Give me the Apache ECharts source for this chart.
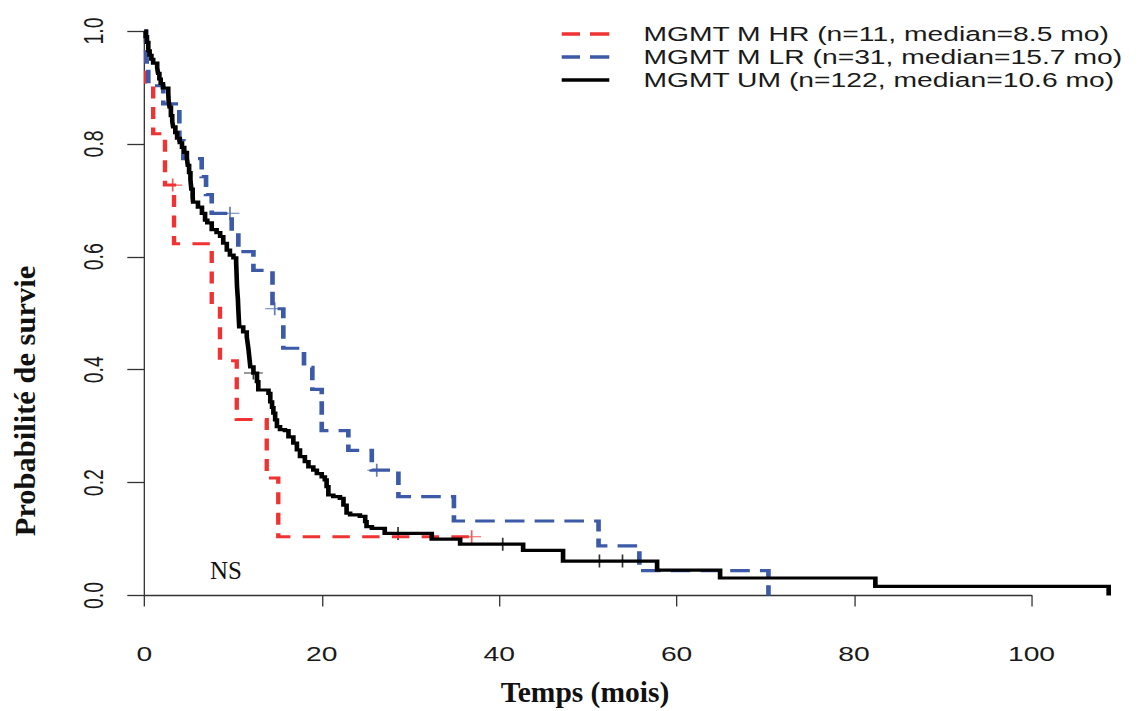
<!DOCTYPE html>
<html><head><meta charset="utf-8">
<script src="https://cdn.jsdelivr.net/npm/echarts@6/dist/echarts.min.js"></script>
<style>
html,body{margin:0;padding:0;background:#fff;overflow:hidden;width:1143px;height:711px}
#wrap{position:absolute;left:0;top:0;width:1143px;height:711px;overflow:hidden;background:#fff}
#chart{position:absolute;left:0;top:0;width:788px;height:711px;transform:scaleX(1.4505);transform-origin:0 0}
</style></head><body><div id="wrap"><div id="chart"></div></div>
<script>
// ---------- data ----------
const seriesNames = [
  'MGMT M HR (n=11, median=8.5 mo)',
  'MGMT M LR (n=31, median=15.7 mo)',
  'MGMT UM (n=122, median=10.6 mo)'
];
const xTicks = [0, 20, 40, 60, 80, 100];
const yTicks = [0.0, 0.2, 0.4, 0.6, 0.8, 1.0];

const hrTime = [0, 0.2, 1.0, 2.33, 3.35, 7.6, 8.53, 10.42, 13.8, 15.1, 36.9];
const hrSurv = [1, 0.909, 0.818, 0.727, 0.623, 0.519, 0.416, 0.312, 0.208, 0.104, 0.104];
const hrCensTime = [3.2, 36.9];
const hrCensSurv = [0.727, 0.104];

const lrTime = [0, 0.2, 0.3, 0.45, 2.14, 3.95, 4.4, 6.47, 6.96, 7.6, 9.85, 10.6, 12.3, 14.45, 15.67, 18.0, 18.94, 20.0, 23.0, 25.64, 28.64, 34.9, 51.2, 55.8, 70.35];
const lrSurv = [1, 0.968, 0.935, 0.903, 0.871, 0.806, 0.774, 0.742, 0.71, 0.677, 0.643, 0.609, 0.576, 0.508, 0.438, 0.404, 0.365, 0.292, 0.257, 0.222, 0.175, 0.132, 0.088, 0.044, 0];
const lrCensTime = [9.66, 14.7, 26.2];
const lrCensSurv = [0.677, 0.508, 0.222];

const umTime = [0, 0.16, 0.3, 0.45, 0.6, 0.8, 1.0, 1.45, 1.55, 1.7, 1.85, 2.1, 2.7, 2.75, 2.85, 3.0, 3.15, 3.25, 3.5, 3.7, 4.0, 4.25, 4.5, 4.8, 4.9, 5.05, 5.2, 5.3, 5.45, 5.5, 6.05, 6.5, 6.85, 7.1, 7.6, 8.15, 8.55, 8.9, 9.3, 9.65, 10.05, 10.35, 10.4, 10.45, 10.55, 10.6, 10.7, 11.15, 11.55, 11.65, 11.75, 11.85, 11.95, 12.3, 12.7, 12.85, 14.0, 14.2, 14.4, 14.55, 14.75, 14.95, 15.3, 15.85, 16.25, 16.8, 17.2, 17.55, 18.1, 18.5, 19.05, 19.45, 20.0, 20.35, 20.55, 20.75, 21.3, 22.05, 22.45, 22.8, 23.2, 24.3, 24.9, 25.05, 25.65, 27.1, 32.4, 35.6, 42.7, 47.2, 57.8, 64.9, 82.4, 108.7];
const umSurv = [1, 0.99, 0.98, 0.965, 0.957, 0.95, 0.943, 0.935, 0.925, 0.915, 0.907, 0.899, 0.89, 0.875, 0.865, 0.85, 0.84, 0.83, 0.82, 0.81, 0.802, 0.794, 0.785, 0.775, 0.762, 0.749, 0.737, 0.72, 0.705, 0.697, 0.688, 0.677, 0.665, 0.66, 0.648, 0.643, 0.636, 0.624, 0.612, 0.603, 0.598, 0.591, 0.57, 0.547, 0.525, 0.506, 0.476, 0.467, 0.458, 0.447, 0.435, 0.42, 0.405, 0.394, 0.379, 0.364, 0.358, 0.343, 0.333, 0.323, 0.311, 0.299, 0.294, 0.292, 0.281, 0.27, 0.258, 0.246, 0.237, 0.228, 0.222, 0.216, 0.21, 0.205, 0.193, 0.178, 0.175, 0.172, 0.16, 0.146, 0.143, 0.14, 0.131, 0.122, 0.119, 0.11, 0.1, 0.091, 0.08, 0.061, 0.045, 0.031, 0.016, 0];
const umCensTime = [12.3, 28.6, 40.4, 51.3, 53.9];
const umCensSurv = [0.394, 0.11, 0.091, 0.061, 0.061];

const colors = ['#f03232', '#3c5aa8', '#000000'];

// ---------- build ----------
const SX = 1.4505;              // horizontal stretch of the reference
const P = v => v / SX;          // final-pixel x -> chart-local x
const zip = (a, b) => a.map((t, i) => [t, b[i]]);
const plus = 'path://M-1,-0.08L1,-0.08L1,0.08L-1,0.08Z M-0.09,-1L0.09,-1L0.09,1L-0.09,1Z';
const dashIcon = 'path://M0,0H12.6V3.6H0Z M19.5,0H32.8V3.6H19.5Z';
const solidIcon = 'path://M0,0H32.8V3.6H0Z';

const chart = echarts.init(document.getElementById('chart'), null, {renderer: 'svg', width: 788, height: 711});
const axisCol = '#333';
const lblFont = {fontFamily: 'Liberation Sans, Arial, sans-serif', fontSize: 19.5, color: '#1a1a1a'};

const gLeft = P(144.3);
const unitW = (P(1031.5) - P(144.3)) / 100;   // px per month
const dataMaxX = 112;

function stepSeries(name, t, s, color, type, width) {
  return {
    name, type: 'line', step: 'end', data: zip(t, s), showSymbol: false, symbol: 'none',
    xAxisIndex: 0, yAxisIndex: 0, clip: false, silent: true,
    lineStyle: {color, width, type, cap: 'butt', join: 'miter'},
    itemStyle: {color}
  };
}
function censSeries(name, t, s, color) {
  return {
    name, type: 'scatter', data: zip(t, s), symbol: plus, symbolSize: [13, 13],
    xAxisIndex: 0, yAxisIndex: 0, itemStyle: {color}, silent: true, clip: false
  };
}

chart.setOption({
  animation: false,
  backgroundColor: '#fff',
  grid: [
    {left: gLeft, top: 31, width: unitW * dataMaxX, height: 564.5, containLabel: false, outerBoundsMode: 'none'},
    {left: gLeft, top: 31, width: unitW * 100, height: 564.5, containLabel: false, outerBoundsMode: 'none'}
  ],
  xAxis: [
    {gridIndex: 0, type: 'value', min: 0, max: dataMaxX, show: false},
    {
      gridIndex: 1, type: 'value', min: xTicks[0], max: xTicks[xTicks.length - 1], interval: 20, offset: 22.8,
      axisLine: {show: true, lineStyle: {color: axisCol, width: 1.3}},
      axisTick: {show: true, length: 11, lineStyle: {color: axisCol, width: 0.9}},
      axisLabel: Object.assign({margin: 26, formatter: v => String(v)}, lblFont),
      splitLine: {show: false}
    }
  ],
  yAxis: [
    {
      gridIndex: 0, type: 'value', min: yTicks[0], max: yTicks[yTicks.length - 1], interval: 0.2,
      axisLine: {show: true, lineStyle: {color: axisCol, width: 0.9}},
      axisTick: {show: true, length: P(17), lineStyle: {color: axisCol, width: 1.3}},
      axisLabel: Object.assign({margin: 25, rotate: 90, formatter: v => v.toFixed(1)}, lblFont),
      splitLine: {show: false}
    },
    {gridIndex: 1, type: 'value', min: 0, max: 1, show: false}
  ],
  legend: {
    data: [
      {name: seriesNames[0], icon: dashIcon},
      {name: seriesNames[1], icon: dashIcon},
      {name: seriesNames[2], icon: solidIcon}
    ],
    orient: 'vertical', left: P(561.7), top: 24, padding: 0,
    itemWidth: P(609.3) - P(561.7), itemHeight: 3.6, itemGap: 3, symbolKeepAspect: false,
    itemStyle: {borderWidth: 0},
    textStyle: Object.assign({padding: [0, 0, 0, 18.5], lineHeight: 20}, lblFont),
    selectedMode: false
  },
  series: [
    stepSeries(seriesNames[0], hrTime, hrSurv, colors[0], [12, 8.5], 3),
    stepSeries(seriesNames[1], lrTime, lrSurv, colors[1], [13.5, 7], 3.2),
    stepSeries(seriesNames[2], umTime, umSurv, colors[2], 'solid', 3.2),
    censSeries('hrCens', hrCensTime, hrCensSurv, colors[0]),
    censSeries('lrCens', lrCensTime, lrCensSurv, colors[1]),
    censSeries('umCens', umCensTime, umCensSurv, colors[2])
  ],
  graphic: [
    {type: 'text', x: P(226), y: 570.5, scaleX: 1 / SX,
     style: {text: 'NS', font: 'normal 25px "Liberation Serif", "Times New Roman", serif', fill: '#111', align: 'center', verticalAlign: 'middle'}},
    {type: 'text', x: P(585), y: 692, scaleX: 1 / SX,
     style: {text: 'Temps (mois)', font: 'bold 29.5px "Liberation Serif", "Times New Roman", serif', fill: '#111', align: 'center', verticalAlign: 'middle'}},
    {type: 'text', x: P(25), y: 401, rotation: Math.PI / 2, scaleY: 1 / SX,
     style: {text: 'Probabilité de survie', font: 'bold 30.5px "Liberation Serif", "Times New Roman", serif', fill: '#111', align: 'center', verticalAlign: 'middle'}}
  ]
});
</script></body></html>
